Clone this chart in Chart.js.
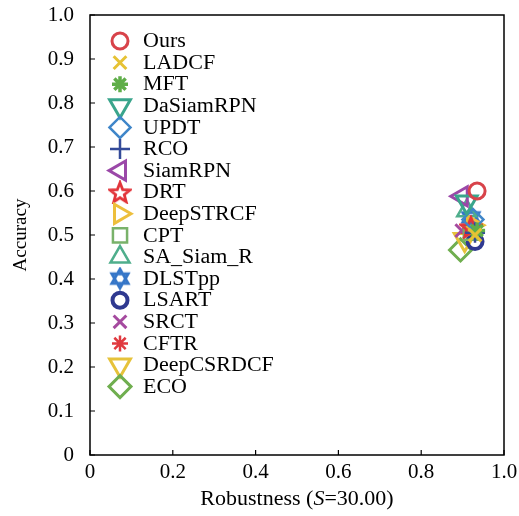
<!DOCTYPE html>
<html>
<head>
<meta charset="utf-8">
<script src="https://cdn.jsdelivr.net/npm/chart.js@4.4.0/dist/chart.umd.min.js"></script>
<style>
html, body { margin: 0; padding: 0; background: #fff; }
</style>
</head>
<body>
<canvas id="ar-plot" width="519" height="516"></canvas>
<script>
// trackers, robustness (S=30) and accuracy
var trackers = ["Ours", "LADCF", "MFT", "DaSiamRPN", "UPDT", "RCO", "SiamRPN", "DRT", "DeepSTRCF",
    "CPT", "SA_Siam_R", "DLSTpp", "LSART", "SRCT", "CFTR", "DeepCSRDCF", "ECO"];
var robustness = [0.935, 0.930, 0.935, 0.910, 0.925, 0.930, 0.898, 0.920, 0.925,
    0.920, 0.910, 0.920, 0.930, 0.898, 0.915, 0.905, 0.895];
var accuracy = [0.600, 0.500, 0.510, 0.575, 0.535, 0.505, 0.588, 0.518, 0.522,
    0.505, 0.555, 0.540, 0.485, 0.510, 0.505, 0.490, 0.466];
var xTicks = [0, 0.2, 0.4, 0.6, 0.8, 1.0];

// marker look per tracker
var colors = ["#d8434a", "#e6c234", "#5fae49", "#3aa58c", "#3f86c9", "#334a99", "#9b48a8", "#e2343a", "#edbf3c",
    "#79b26a", "#4fae8c", "#3576c8", "#2f3990", "#a54a9f", "#e03a3f", "#e6c23a", "#6fae4f"];
var shapes = ["circle", "crossRot", "star", "triangle", "rectRot", "cross", "triangle", "star5", "triangle",
    "rect", "triangle", "hexagram", "circle", "crossRot", "star", "triangle", "rectRot"];
var turns = [0, 0, 0, 180, 0, 0, -90, 0, 90, 0, 0, 0, 0, 0, 0, 180, 0];
var widths = [3, 3, 3.5, 3, 2.5, 2.5, 3, 2.5, 3, 2.5, 2.5, 2.5, 4, 3, 2.5, 3, 3];
var sizes = [8, 9, 8, 12, 10.5, 10, 11, 10, 11, 10, 11, 10, 7.5, 9, 8, 12, 11];

var serif = "'Liberation Serif', 'Times New Roman', serif";
var stretch = 1.1;

function shapeCanvas(kind, color) {
    var c = document.createElement('canvas');
    c.width = 24; c.height = 24;
    var g = c.getContext('2d');
    g.strokeStyle = color;
    g.lineWidth = 2.8;
    g.lineJoin = 'miter';
    g.beginPath();
    if (kind === 'star5') {
        for (var k = 0; k < 10; k++) {
            var r = k % 2 === 0 ? 10.5 : 4.5;
            var a = -Math.PI / 2 + k * Math.PI / 5;
            var px = 12 + r * Math.cos(a), py = 13 + r * Math.sin(a);
            if (k === 0) g.moveTo(px, py); else g.lineTo(px, py);
        }
        g.closePath();
    } else {
        [-Math.PI / 2, Math.PI / 2].forEach(function (start) {
            for (var k = 0; k < 3; k++) {
                var a = start + k * 2 * Math.PI / 3;
                var px = 12 + 9.5 * Math.cos(a), py = 12 + 9.5 * Math.sin(a);
                if (k === 0) g.moveTo(px, py); else g.lineTo(px, py);
            }
            g.closePath();
        });
    }
    g.stroke();
    return c;
}

var pointStyles = shapes.map(function (s, i) {
    return (s === 'star5' || s === 'hexagram') ? shapeCanvas(s, colors[i]) : s;
});

function fmt(v) {
    return v === 0 ? '0' : v.toFixed(1);
}

var datasets = trackers.map(function (name, i) {
    return {
        label: name,
        data: [{ x: robustness[i], y: accuracy[i] }],
        pointStyle: pointStyles[i],
        rotation: turns[i],
        pointRadius: sizes[i],
        pointHoverRadius: sizes[i],
        borderColor: colors[i],
        backgroundColor: 'rgba(0,0,0,0)',
        borderWidth: widths[i]
    };
});

// text drawn slightly wide, like the original figure
function wideText(c, str, x, y, style) {
    c.save();
    c.font = (style || 'normal') + " 20px " + serif;
    c.translate(x, y);
    c.scale(stretch, 1);
    c.fillText(str, 0, 0);
    var w = c.measureText(str).width * stretch;
    c.restore();
    return w;
}

// frame, inward ticks, x title with italic S, legend inside the plot
var decor = {
    id: 'decor',
    beforeDatasetsDraw: function (chart) {
        var a = chart.chartArea, c = chart.ctx;
        c.save();
        c.strokeStyle = '#000';
        c.lineWidth = 1.5;
        c.strokeRect(a.left, a.top, a.right - a.left, a.bottom - a.top);
        c.lineWidth = 1.2;
        c.beginPath();
        chart.scales.x.ticks.forEach(function (t) {
            var px = chart.scales.x.getPixelForValue(t.value);
            c.moveTo(px, a.bottom); c.lineTo(px, a.bottom - 5);
        });
        chart.scales.y.ticks.forEach(function (t) {
            var py = chart.scales.y.getPixelForValue(t.value);
            c.moveTo(a.left, py); c.lineTo(a.left + 5, py);
        });
        c.stroke();
        c.restore();
    },
    afterDraw: function (chart) {
        var a = chart.chartArea, c = chart.ctx;
        c.save();
        c.fillStyle = '#000';
        c.textBaseline = 'middle';
        // x title
        var parts = [["Robustness (", "normal"], ["S", "italic"], ["=30.00)", "normal"]];
        var total = 0;
        parts.forEach(function (p) {
            c.font = p[1] + " 20px " + serif;
            total += c.measureText(p[0]).width * stretch;
        });
        var tx = (a.left + a.right) / 2 - total / 2;
        parts.forEach(function (p) {
            tx += wideText(c, p[0], tx, 500, p[1]);
        });
        // legend
        trackers.forEach(function (name, i) {
            var ly = 41 + i * 21.6;
            c.strokeStyle = colors[i];
            c.fillStyle = 'rgba(0,0,0,0)';
            c.lineWidth = widths[i];
            Chart.helpers.drawPoint(c, {
                pointStyle: pointStyles[i],
                rotation: turns[i],
                radius: sizes[i],
                borderWidth: widths[i]
            }, 120, ly);
            c.fillStyle = '#000';
            wideText(c, name, 143, ly + 1);
        });
        c.restore();
    }
};

new Chart(document.getElementById('ar-plot'), {
    type: 'scatter',
    data: { datasets: datasets },
    options: {
        responsive: false,
        animation: false,
        layout: { padding: { left: 0, top: 15, right: 14, bottom: 0 } },
        plugins: {
            legend: { display: false },
            tooltip: { enabled: false }
        },
        scales: {
            x: {
                type: 'linear',
                min: 0,
                max: 1,
                afterFit: function (s) {
                    s.height = 61;
                    s.paddingLeft = 0; s.paddingRight = 0;
                },
                afterBuildTicks: function (s) {
                    s.ticks = xTicks.map(function (v) { return { value: v }; });
                },
                grid: { display: false, drawTicks: false },
                border: { display: false },
                ticks: {
                    padding: 5,
                    color: '#000',
                    maxRotation: 0,
                    font: { family: serif, size: 21 },
                    callback: fmt
                }
            },
            y: {
                type: 'linear',
                min: 0,
                max: 1,
                afterFit: function (s) {
                    s.width = 90;
                    s.paddingTop = 0; s.paddingBottom = 0;
                },
                grid: { display: false, drawTicks: false },
                border: { display: false },
                ticks: {
                    stepSize: 0.1,
                    padding: 16,
                    color: '#000',
                    font: { family: serif, size: 21 },
                    callback: fmt
                },
                title: {
                    display: true,
                    text: 'Accuracy',
                    color: '#000',
                    padding: { top: 10, bottom: 0 },
                    font: { family: serif, size: 19 }
                }
            }
        }
    },
    plugins: [decor]
});
</script>
</body>
</html>
